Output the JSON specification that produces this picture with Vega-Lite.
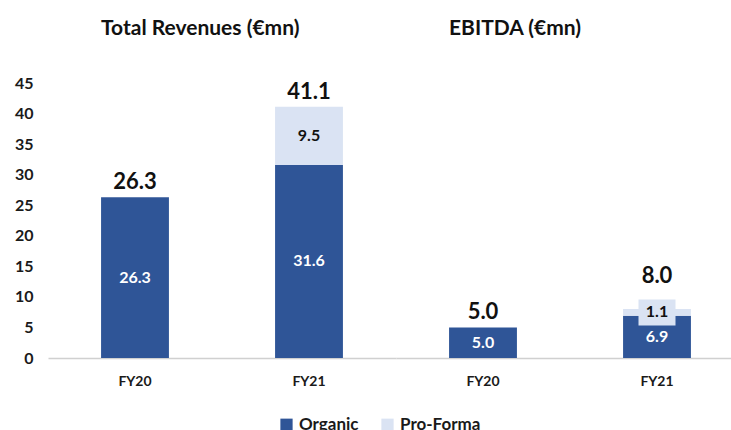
{
  "$schema": "https://vega.github.io/schema/vega-lite/v6.json",
  "background": "white",
  "padding": {"left": 14, "top": 18, "right": 0, "bottom": 0},
  "data": {
    "values": [
      {"group": "Total Revenues (€mn)", "year": "FY20", "series": "Organic", "value": 26.3},
      {"group": "Total Revenues (€mn)", "year": "FY21", "series": "Organic", "value": 31.6},
      {"group": "Total Revenues (€mn)", "year": "FY21", "series": "Pro-Forma", "value": 9.5},
      {"group": "EBITDA (€mn)", "year": "FY20", "series": "Organic", "value": 5.0},
      {"group": "EBITDA (€mn)", "year": "FY21", "series": "Organic", "value": 6.9},
      {"group": "EBITDA (€mn)", "year": "FY21", "series": "Pro-Forma", "value": 1.1}
    ]
  },
  "facet": {
    "column": {
      "field": "group",
      "type": "nominal",
      "sort": ["Total Revenues (€mn)", "EBITDA (€mn)"],
      "title": null,
      "header": {"labels": false}
    }
  },
  "spacing": 0,
  "spec": {
    "width": 348,
    "height": 275,
    "encoding": {
      "x": {
        "field": "year",
        "type": "nominal",
        "scale": {"paddingInner": 0.61, "paddingOuter": 0.305},
        "axis": {
          "title": null,
          "ticks": false,
          "labelAngle": 0,
          "labelFont": "Lato",
          "labelFontWeight": "bold",
          "labelFontSize": 14,
          "labelColor": "#1a1a1a",
          "labelPadding": 16,
          "domainColor": "#d0d0d0",
          "domainWidth": 1.5
        }
      }
    },
    "layer": [
      {
        "mark": {"type": "bar"},
        "encoding": {
          "y": {
            "field": "value",
            "type": "quantitative",
            "stack": "zero",
            "scale": {"domain": [0, 45], "nice": false, "padding": 0, "zero": true},
            "axis": {
              "title": null,
              "values": [0, 5, 10, 15, 20, 25, 30, 35, 40, 45],
              "labelOverlap": false,
              "ticks": false,
              "domain": false,
              "grid": false,
              "labelFont": "Lato",
              "labelFontWeight": "bold",
              "labelFontSize": 16,
              "labelColor": "#1a1a1a",
              "labelPadding": 15
            }
          },
          "order": {"field": "series", "sort": "ascending"},
          "color": {
            "field": "series",
            "type": "nominal",
            "scale": {"domain": ["Organic", "Pro-Forma"], "range": ["#2F5597", "#DAE3F3"]},
            "legend": {
              "title": null,
              "orient": "bottom",
              "direction": "horizontal",
              "symbolType": "square",
              "symbolSize": 150,
              "symbolStrokeWidth": 0,
              "labelFont": "Lato",
              "labelFontWeight": "bold",
              "labelFontSize": 17,
              "labelColor": "#1a1a1a",
              "columnPadding": 20,
              "offset": 28
            }
          }
        }
      },
      {
        "mark": {"type": "point", "shape": "M-1,-0.7H1V0.7H-1Z", "size": 1369, "filled": true, "color": "#DAE3F3", "strokeWidth": 0},
        "encoding": {
          "y": {
            "field": "value",
            "type": "quantitative",
            "stack": "zero",
            "bandPosition": 0.5,
            "axis": {
              "title": null,
              "values": [0, 5, 10, 15, 20, 25, 30, 35, 40, 45],
              "labelOverlap": false,
              "ticks": false,
              "domain": false,
              "grid": false,
              "labelFont": "Lato",
              "labelFontWeight": "bold",
              "labelFontSize": 16,
              "labelColor": "#1a1a1a",
              "labelPadding": 15
            }
          },
          "order": {"field": "series", "sort": "ascending"},
          "detail": {"field": "series"},
          "opacity": {"condition": {"test": "datum.series == 'Organic'", "value": 0}, "value": 1}
        }
      },
      {
        "mark": {"type": "text", "font": "Lato", "fontWeight": "bold", "fontSize": 16, "baseline": "middle"},
        "encoding": {
          "y": {
            "field": "value",
            "type": "quantitative",
            "stack": "zero",
            "bandPosition": 0.5,
            "axis": {
              "title": null,
              "values": [0, 5, 10, 15, 20, 25, 30, 35, 40, 45],
              "labelOverlap": false,
              "ticks": false,
              "domain": false,
              "grid": false,
              "labelFont": "Lato",
              "labelFontWeight": "bold",
              "labelFontSize": 16,
              "labelColor": "#1a1a1a",
              "labelPadding": 15
            }
          },
          "order": {"field": "series", "sort": "ascending"},
          "text": {"field": "value", "type": "quantitative", "format": ".1f"},
          "detail": {"field": "series"},
          "color": {"condition": {"test": "datum.series == 'Organic'", "value": "white"}, "value": "#111111"}
        }
      },
      {
        "mark": {"type": "text", "font": "Lato", "fontWeight": "bold", "fontSize": 22, "baseline": "middle", "dy": {"expr": "datum.year == 'FY21' && datum.sum_value < 20 ? -33 : -15"}, "color": "#111111"},
        "encoding": {
          "y": {
            "aggregate": "sum",
            "field": "value",
            "type": "quantitative",
            "axis": {
              "title": null,
              "values": [0, 5, 10, 15, 20, 25, 30, 35, 40, 45],
              "labelOverlap": false,
              "ticks": false,
              "domain": false,
              "grid": false,
              "labelFont": "Lato",
              "labelFontWeight": "bold",
              "labelFontSize": 16,
              "labelColor": "#1a1a1a",
              "labelPadding": 15
            }
          },
          "text": {"aggregate": "sum", "field": "value", "type": "quantitative", "format": ".1f"}
        }
      },
      {
        "transform": [{"filter": "datum.year == 'FY20'"}],
        "mark": {"type": "text", "font": "Lato", "fontWeight": "bold", "fontSize": 21, "baseline": "middle", "align": "left", "dx": -34, "color": "#111111"},
        "encoding": {
          "y": {
            "datum": 53.8,
            "axis": {
              "title": null,
              "values": [0, 5, 10, 15, 20, 25, 30, 35, 40, 45],
              "labelOverlap": false,
              "ticks": false,
              "domain": false,
              "grid": false,
              "labelFont": "Lato",
              "labelFontWeight": "bold",
              "labelFontSize": 16,
              "labelColor": "#1a1a1a",
              "labelPadding": 15
            }
          },
          "text": {"field": "group", "type": "nominal"}
        }
      }
    ]
  },
  "config": {
    "view": {"stroke": null},
    "legend": {"layout": {"bottom": {"anchor": "middle"}}}
  }
}
